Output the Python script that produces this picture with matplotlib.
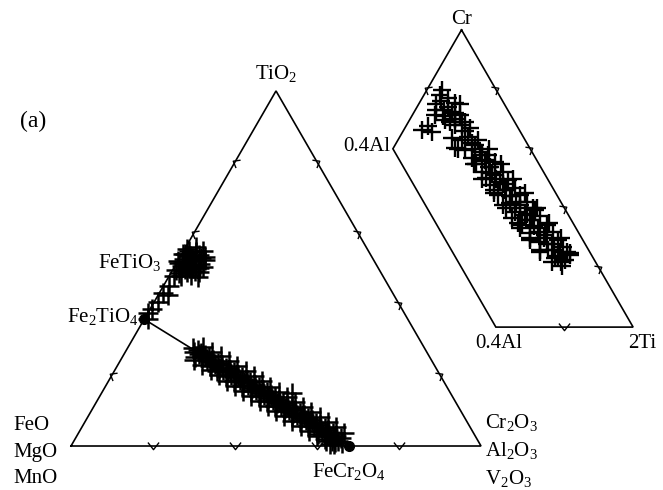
import numpy as np
import matplotlib
matplotlib.use('Agg')
import matplotlib.pyplot as plt
from matplotlib.path import Path

plt.rcParams['font.family'] = ['Liberation Serif', 'DejaVu Serif']
plt.rcParams['mathtext.fontset'] = 'custom'
plt.rcParams['mathtext.rm'] = 'Liberation Serif'
plt.rcParams['mathtext.it'] = 'Liberation Serif:italic'

# main diagram: wt fractions (TiO2, R2O3); FeO+MgO+MnO is the rest
fe2tio4 = (0.357, 0.0)
fecr2o4 = (0.0, 0.679)

# FeTiO3 cluster and points along the FeO-TiO2 edge (TiO2 %, R2O3 %)
ilm_tio2 = [55.5, 54.8, 54.0, 53.5, 53.0, 52.6, 52.2, 51.8, 51.5, 51.0, 50.6, 50.2,
            49.8, 49.5, 49.0, 48.6, 48.2, 47.8, 53.8, 52.9, 51.2, 50.0, 54.5, 47.6,
            56.0, 55.0, 53.2, 52.0, 50.8, 49.3, 48.0, 51.6, 54.2, 50.4, 52.4, 49.0,
            45.0, 43.2, 42.5, 40.5, 38.5, 37.5, 35.8]
ilm_r2o3 = [0.5, 1.5, 0.8, 2.2, 3.0, 1.2, 4.0, 2.5, 0.6, 3.4, 1.8, 4.6,
            2.8, 0.9, 3.8, 2.0, 5.2, 3.0, 4.4, 5.3, 5.8, 6.3, 3.2, 7.2,
            2.6, 4.8, 6.0, 0.2, 5.0, 5.6, 1.0, 1.4, 0.3, 7.0, 6.6, 6.8,
            1.5, 0.8, 2.5, 1.0, 0.5, 0.0, 0.8]

# spinel band (TiO2 %, R2O3 %)
sp_tio2 = [27.6, 26.4, 25.1, 26.9, 25.8, 26.3, 25.0, 25.6, 24.3, 25.0, 23.6, 24.3,
           23.0, 22.6, 23.5, 22.1, 22.9, 21.5, 21.2, 22.1, 20.8, 21.5, 20.0, 19.8,
           20.8, 19.3, 20.1, 18.6, 18.4, 19.4, 17.9, 18.7, 17.2, 17.0, 17.9, 16.4,
           17.2, 15.7, 15.6, 16.5, 15.0, 15.8, 14.3, 14.2, 15.1, 13.6, 14.4, 12.9,
           12.8, 13.7, 12.2, 12.9, 11.4, 11.3, 12.2, 10.7, 14.9, 11.5, 10.0, 9.9,
           10.8, 9.3, 10.1, 8.6, 8.5, 9.4, 7.9, 8.7, 7.2, 7.1, 7.9, 6.4,
           7.2, 5.7, 5.6, 6.5, 5.0, 5.8, 4.3, 4.2, 5.1, 3.6, 4.4, 2.9,
           2.8, 3.7, 2.2, 2.9, 1.4, 1.5, 2.2, 0.8, 1.0, 0.5, 2.0, 3.5,
           28.0, 24.2, 26.6, 22.7, 25.3, 21.3, 23.9, 19.9, 22.4, 18.4, 21.0, 17.0,
           19.6, 15.6, 18.2, 14.2, 16.7, 12.7, 15.3, 11.3, 13.9, 9.9, 12.5, 8.5,
           11.0, 7.0, 9.6, 5.6, 8.2, 4.2, 6.7, 2.8, 5.3, 1.4, 3.6, 0.5]
sp_r2o3 = [16.0, 16.8, 17.7, 17.5, 18.4, 18.6, 19.5, 20.0, 20.9, 21.2, 22.3, 22.6,
           23.7, 22.5, 24.0, 25.0, 25.3, 26.4, 25.0, 26.8, 27.8, 28.0, 29.1, 27.9,
           29.4, 30.5, 30.7, 31.9, 30.6, 32.1, 33.2, 33.5, 34.6, 33.3, 34.8, 35.9,
           36.2, 37.3, 36.0, 37.5, 38.7, 38.9, 40.0, 38.8, 40.2, 41.3, 41.6, 42.7,
           41.5, 43.0, 44.1, 44.3, 45.4, 44.2, 45.7, 46.8, 46.4, 47.0, 48.1, 46.9,
           48.4, 49.5, 49.7, 50.8, 49.6, 51.1, 52.2, 52.5, 53.6, 52.4, 53.8, 54.9,
           55.2, 56.3, 55.1, 56.5, 57.6, 57.9, 59.0, 57.8, 59.3, 60.4, 60.6, 61.7,
           60.5, 62.0, 63.1, 63.3, 64.4, 62.8, 64.7, 65.6, 64.0, 63.0, 61.0, 58.5,
           18.2, 17.9, 21.2, 20.6, 24.0, 23.4, 26.7, 26.1, 29.4, 28.8, 32.1, 31.5,
           34.8, 34.2, 37.5, 36.9, 40.3, 39.7, 43.0, 42.4, 45.7, 45.1, 48.4, 47.8,
           51.1, 50.5, 53.8, 53.2, 56.6, 56.0, 59.3, 58.7, 62.0, 61.4, 64.7, 64.0]

# inset: cation fractions (Cr, 2Ti); 0.4Al is the rest
ins_cr = [0.781, 0.771, 0.754, 0.751, 0.731, 0.724, 0.714, 0.714, 0.697, 0.690, 0.680, 0.670,
          0.798, 0.663, 0.657, 0.677, 0.636, 0.630, 0.603, 0.596, 0.613, 0.589, 0.569, 0.562,
          0.539, 0.522, 0.512, 0.488, 0.478, 0.461, 0.444, 0.441, 0.418, 0.411, 0.387, 0.377,
          0.360, 0.343, 0.333, 0.316, 0.310, 0.286, 0.279, 0.259, 0.253, 0.232, 0.226, 0.205,
          0.242, 0.394, 0.630, 0.579, 0.556, 0.522, 0.495, 0.468, 0.444, 0.421, 0.401, 0.374,
          0.343, 0.320, 0.293, 0.269, 0.253, 0.549, 0.502, 0.461, 0.411, 0.367, 0.333, 0.293,
          0.253, 0.219,
          0.76, 0.74, 0.72, 0.70, 0.68, 0.66, 0.64, 0.62, 0.60, 0.58, 0.56, 0.54,
          0.52, 0.50, 0.48, 0.46, 0.44, 0.42, 0.40, 0.38, 0.36, 0.34, 0.32, 0.30,
          0.28, 0.26, 0.24, 0.22, 0.75, 0.73, 0.71, 0.69,
          0.60, 0.55, 0.50, 0.45, 0.40, 0.35, 0.30, 0.26,
          0.60, 0.55, 0.50, 0.45, 0.40, 0.35, 0.30, 0.25]
ins_ti = [0.046, 0.076, 0.104, 0.051, 0.084, 0.110, 0.139, 0.066, 0.104, 0.165, 0.141, 0.190,
          0.044, 0.053, 0.086, 0.064, 0.154, 0.186, 0.180, 0.212, 0.233, 0.259, 0.246, 0.288,
          0.314, 0.299, 0.342, 0.368, 0.344, 0.396, 0.384, 0.426, 0.432, 0.466, 0.462, 0.496,
          0.526, 0.504, 0.556, 0.542, 0.588, 0.586, 0.624, 0.622, 0.661, 0.657, 0.689, 0.690,
          0.695, 0.517, 0.233, 0.287, 0.320, 0.360, 0.389, 0.422, 0.449, 0.481, 0.508, 0.542,
          0.577, 0.607, 0.635, 0.661, 0.682, 0.268, 0.320, 0.364, 0.416, 0.463, 0.504, 0.554,
          0.603, 0.655,
          0.06, 0.09, 0.12, 0.13, 0.16, 0.18, 0.20, 0.22, 0.24, 0.27, 0.29, 0.31,
          0.33, 0.35, 0.38, 0.40, 0.42, 0.45, 0.47, 0.50, 0.52, 0.54, 0.57, 0.59,
          0.61, 0.64, 0.66, 0.68, 0.12, 0.06, 0.09, 0.12,
          0.19, 0.26, 0.31, 0.37, 0.43, 0.49, 0.55, 0.60,
          0.28, 0.34, 0.40, 0.46, 0.52, 0.58, 0.64, 0.69]

tick_fracs = [0.2, 0.4, 0.6, 0.8]
S3 = np.sqrt(3) / 2


def main_xy(t, r):
    t = np.asarray(t, float)
    r = np.asarray(r, float)
    return r + t / 2, t * S3


# inset placed to the right of the main triangle
INS_O = (0.534, 0.290)
INS_L = 0.837


def ins_xy(cr, ti):
    cr = np.asarray(cr, float)
    ti = np.asarray(ti, float)
    return INS_O[0] + INS_L * (ti + cr / 2), INS_O[1] + INS_L * cr * S3


def chevron(angle):
    # small open arrowhead pointing in direction `angle` (deg)
    v = np.array([[-0.5, 0.7], [0.4, 0.0], [-0.5, -0.7]])
    a = np.radians(angle)
    rot = np.array([[np.cos(a), -np.sin(a)], [np.sin(a), np.cos(a)]])
    return Path(v @ rot.T, [Path.MOVETO, Path.LINETO, Path.LINETO])


fig = plt.figure(figsize=(6.63, 4.90), dpi=100)
ax = fig.add_axes([0, 0, 1, 1])
ax.set_xlim(-0.1732, 1.4439)
ax.set_ylim(-0.1073, 1.0878)
ax.set_axis_off()

lw = 1.2
tk = dict(ls='none', ms=8, mfc='none', mec='black', mew=1.0)

# main triangle
tx, ty = main_xy([0, 0, 1, 0], [0, 1, 0, 0])
ax.plot(tx, ty, color='black', lw=lw, solid_joinstyle='miter')

# edge ticks
tf = np.array(tick_fracs)
for (t, r, ang) in [(tf, 0 * tf, 150), (0 * tf, tf, 270), (tf, 1 - tf, 30)]:
    x, y = main_xy(t, r)
    ax.plot(x, y, marker=chevron(ang), **tk)

# spinel join
jx, jy = main_xy([fe2tio4[0], fecr2o4[0]], [fe2tio4[1], fecr2o4[1]])
ax.plot(jx, jy, color='black', lw=lw, zorder=2)

pk = dict(ls='none', marker='+', ms=14.5, mew=1.8, color='black', zorder=3)
x, y = main_xy(np.array(ilm_tio2) / 100, np.array(ilm_r2o3) / 100)
ax.plot(x, y, **pk)
x, y = main_xy(np.array(sp_tio2) / 100, np.array(sp_r2o3) / 100)
ax.plot(x, y, **pk)
ax.plot(jx, jy, ls='none', marker='o', ms=7, color='black', zorder=4)

# inset (Al <= 0.4 part of Cr-Al-2Ti triangle)
ix, iy = ins_xy([1, 0.6, 0, 0, 1], [0, 0, 0.6, 1, 0])
ax.plot(ix, iy, color='black', lw=lw, solid_joinstyle='miter')
x, y = ins_xy([0.8], [0.0])
ax.plot(x, y, marker=chevron(150), **tk)
x, y = ins_xy(tf, 1 - tf)
ax.plot(x, y, marker=chevron(30), **tk)
x, y = ins_xy([0.0], [0.8])
ax.plot(x, y, marker=chevron(270), **tk)
x, y = ins_xy(ins_cr, ins_ti)
ax.plot(x, y, ls='none', marker='+', ms=13, mew=1.7, color='black', zorder=3)

fs = 15


def label(txt, xy, off, ha='center', va='baseline'):
    ax.annotate(txt, xy=xy, xytext=off, textcoords='offset pixels',
                ha=ha, va=va, fontsize=fs, zorder=1)


apex = main_xy(1, 0)
left = main_xy(0, 0)
right = main_xy(0, 1)
label('TiO$_2$', apex, (0, 12))
label('FeTiO$_3$', main_xy(0.526, 0), (-81, -9), ha='left')
label('Fe$_2$TiO$_4$', main_xy(*fe2tio4), (-6, -3), ha='right')
for txt, dy in zip(['FeO', 'MgO', 'MnO'], [16, -11, -37]):
    label(txt, left, (-58, dy), ha='left')
for txt, dy in zip(['Cr$_2$O$_3$', 'Al$_2$O$_3$', 'V$_2$O$_3$'], [18, -10, -38]):
    label(txt, right, (4, dy), ha='left')
label('FeCr$_2$O$_4$', main_xy(*fecr2o4), (0, -31))

label('Cr', ins_xy(1, 0), (0, 6))
label('0.4Al', ins_xy(0.6, 0), (-3, -2), ha='right')
label('0.4Al', ins_xy(0, 0.6), (3, -21))
label('2Ti', ins_xy(0, 1), (9, -21))

fig.text(33 / 663, 1 - 127 / 490, '(a)', fontsize=17, ha='center', va='baseline')

fig.savefig('out.png', dpi=100)
